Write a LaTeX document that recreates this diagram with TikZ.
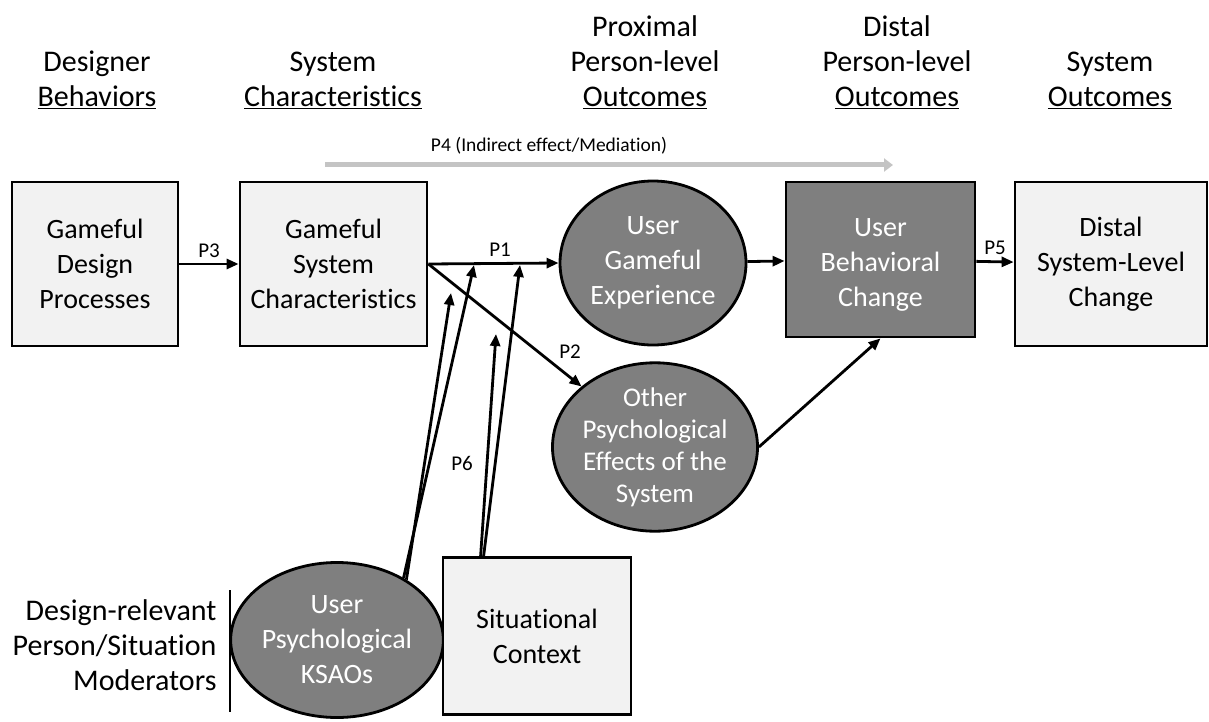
\documentclass[tikz,border=0pt]{standalone}
\usepackage{fontspec}
\setmainfont{Carlito}[Ligatures=NoCommon]
\usetikzlibrary{shapes.geometric,positioning,arrows.meta}

\definecolor{boxgray}{HTML}{F2F2F2}
\definecolor{ovalgray}{HTML}{7F7F7F}
\definecolor{pathgray}{HTML}{C4C4C4}

\begin{document}
\begin{tikzpicture}[x=1pt,y=-1pt,
% Node styles
		head/.style={align=center
							    , font=\fontsize{30}{35}\selectfont},
		stage/.style={rectangle
							    , fill=boxgray
							    , draw=black, line width=2.8pt
							    , align=center
							    , font=\fontsize{28}{35}\selectfont},
		latent/.style={ellipse
							    , fill=ovalgray
							    , draw=black, line width=2.8pt
							    , text=white
							    , align=center
							    , inner sep=0pt
							    , font=\fontsize{28}{35}\selectfont},
		plabel/.style={font=\fontsize{21}{24}\selectfont},
% Edge style
		link/.style = {line width=2.8pt
			       			, >={Triangle[length=12pt,width=10pt]}
			       			, ->},
		mediation/.style = {line width=5pt
			       			, draw=pathgray
			       			, >={Triangle[length=9pt,width=13pt]}
			       			, ->}
	]
\useasboundingbox (0,0) rectangle (1209,722);
%% Column headings
		\node [head] (h1) at (97,80) {Designer \\ \underline{Behaviors}};
		\node [head] (h2) at (333,80) {System \\ \underline{Characteristics}};
		\node [head] (h3) at (645,62) {Proximal \\ Person-level \\ \underline{Outcomes}};
		\node [head] (h4) at (897,62) {Distal \\ Person-level \\ \underline{Outcomes}};
		\node [head] (h5) at (1110,80) {System \\ \underline{Outcomes}};
%% Main chain
		\node [stage, minimum width=166pt, minimum height=164pt] (gdp) at (95,264) {Gameful \\ Design \\ Processes};
		\node [stage, minimum width=187pt, minimum height=164pt] (gsc) at (333.5,264) {Gameful \\ System \\ Characteristics};
		\node [latent, minimum width=186pt, minimum height=164pt] (uge) at (653,263) {User \\ Gameful \\ Experience};
		\node [stage, fill=ovalgray, text=white, minimum width=189pt, minimum height=155pt] (ubc) at (880.5,259.5) {\\[-6pt] User \\ Behavioral \\ Change};
		\node [stage, minimum width=192pt, minimum height=164pt] (dsc) at (1111,264) {Distal \\ System-Level \\ Change};
		\node [latent, minimum width=180pt, minimum height=146pt, font=\fontsize{27}{32}\selectfont] (ope) at (655,447) {Other \\ Psychological \\ Effects of the \\ System};
%% Moderators
		\node [latent, minimum width=200pt, minimum height=155pt] (ksao) at (337,640) {User \\ Psychological \\ KSAOs};
		\node [stage, minimum width=188pt, minimum height=157pt] (sc) at (537,636) {Situational \\ Context};
		\node [head, align=right, anchor=east] (mod) at (220,645) {Design-relevant \\ Person/Situation \\ Moderators};
		\draw [line width=1.6pt] (mod.east) ++(10,-55) coordinate (bar1) -- ++(0,122) coordinate (bar2);
%% Mediation arrow
		\coordinate (p4s) at (325,165);
		\coordinate (p4e) at (893,165);
		\draw [mediation] (p4s) -- (p4e);
		\node [plabel, font=\fontsize{19.5}{22}\selectfont] (p4) at (549,146) {P4 (Indirect effect/Mediation)};
%% Paths
		\draw [link] (gdp) -- node [plabel, above=2pt] {P3} (gsc);
		\draw [link] (gsc.east) -- node [plabel, pos=0.55, above=2pt] {P1} (uge.west);
		\draw [link] (gsc.east) -- (ope.north west);
		\node [plabel] (p2) at (570,352) {P2};
		\draw [link] (uge) -- (ubc);
		\draw [link] (ope.east) -- (ubc.south);
		\draw [link] (ubc) -- node [plabel, above=2pt] {P5} (dsc);
%% Moderating effects
		\coordinate (m1) at (451,293);
		\coordinate (m2) at (474,265);
		\coordinate (m3) at (496,334);
		\coordinate (m4) at (520,265);
		\draw [link] (ksao.41) -- (m1);
		\draw [link] (ksao.43) -- (m2);
		\draw [link] ([xshift=39pt]sc.north west) -- (m3);
		\draw [link] ([xshift=42pt]sc.north west) -- (m4);
		\node [plabel] (p6) at (462,463) {P6};
\end{tikzpicture}
\end{document}
